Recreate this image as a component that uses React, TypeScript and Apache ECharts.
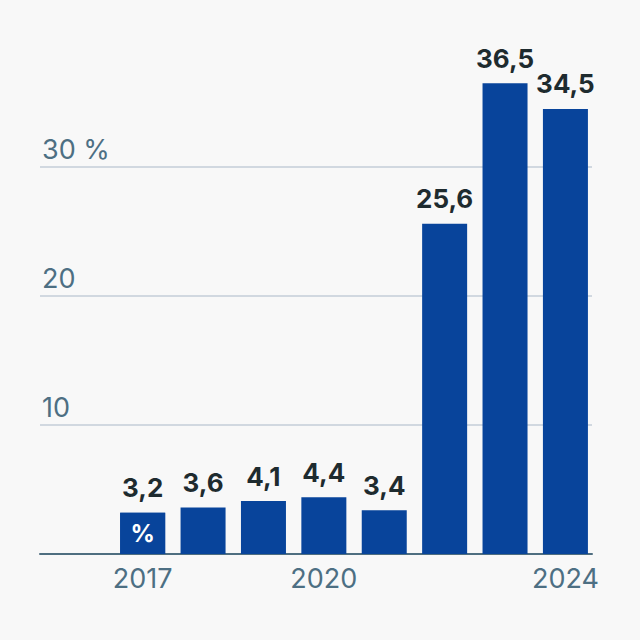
import React, { useEffect, useRef } from "react";
import * as echarts from "echarts";

const years = [2017, 2018, 2019, 2020, 2021, 2022, 2023, 2024];
const values = [3.2, 3.6, 4.1, 4.4, 3.4, 25.6, 36.5, 34.5];
const xLabelYears = [2017, 2020, 2024];
const yTicks = [10, 20, 30];
const unitSuffix = " %";

const fmt = (v: number) => v.toFixed(1).replace(".", ",");

export default function App() {
  const ref = useRef<HTMLDivElement>(null);
  useEffect(() => {
    if (!ref.current) return;
    const chart = echarts.init(ref.current, null, { renderer: "svg" });
    const barColor = "#08449b";
    chart.setOption({
      animation: false,
      backgroundColor: "#f8f8f8",
      grid: { left: 40, right: 48, top: 38, bottom: 86 },
      xAxis: {
        type: "value",
        min: 2015.3,
        max: 2024.44,
        axisLine: { show: true, onZero: false, lineStyle: { color: "#4f6e80", width: 2 } },
        axisTick: { show: false },
        splitLine: { show: false },
        axisLabel: {
          customValues: xLabelYears,
          formatter: (v: number) => String(v),
          color: "#4d6f83",
          fontFamily: "Inter",
          fontSize: 27,
          margin: 11,
        },
      },
      yAxis: {
        type: "value",
        min: 0,
        max: 40,
        interval: 10,
        axisLine: { show: false },
        axisTick: { show: false },
        splitLine: {
          show: true,
          showMinLine: false,
          showMaxLine: false,
          lineStyle: { color: "#c5ced8", width: 1.5 },
        },
        axisLabel: {
          inside: true,
          verticalAlign: "bottom",
          margin: 2,
          padding: [0, 0, 4, 0],
          color: "#4d6f83",
          fontFamily: "Inter",
          fontSize: 27,
          formatter: (v: number) => {
            if (!yTicks.includes(v)) return "";
            return v === yTicks[yTicks.length - 1] ? v + unitSuffix : String(v);
          },
        },
      },
      series: [
        {
          type: "bar",
          barWidth: 45,
          z: 3,
          data: years.map((y, i) => [y, values[i]]),
          itemStyle: { color: barColor },
          label: {
            show: true,
            position: "top",
            distance: 12,
            color: "#1e2b2f",
            fontFamily: "Inter",
            fontWeight: "bold",
            fontSize: 26,
            formatter: (p: any) => fmt(p.value[1]),
          },
        },
        {
          type: "bar",
          barWidth: 45,
          barGap: "-100%",
          z: 4,
          data: [[years[0], values[0]]],
          itemStyle: { color: barColor },
          label: {
            show: true,
            position: "inside",
            color: "#ffffff",
            fontFamily: "Inter",
            fontWeight: "bold",
            fontSize: 24,
            formatter: () => "%",
          },
        },
      ],
    });
    return () => chart.dispose();
  }, []);
  return (
    <div
      ref={ref}
      style={{ position: "fixed", left: 0, top: 0, width: 640, height: 640, background: "#f8f8f8" }}
    />
  );
}
